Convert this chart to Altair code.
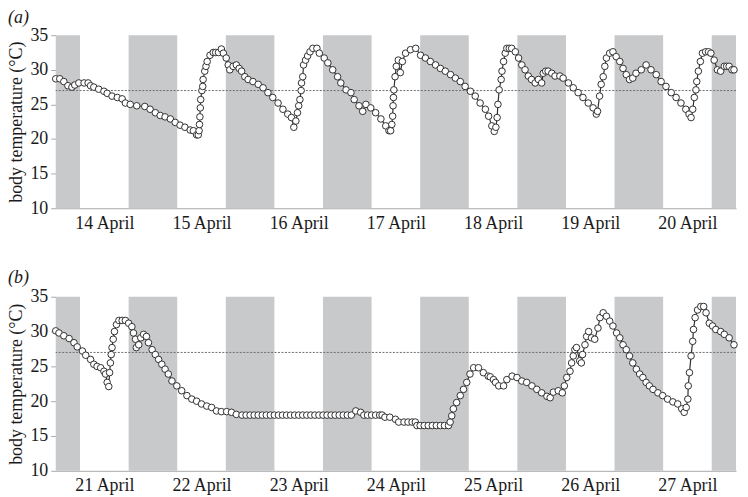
import altair as alt
import pandas as pd

# ---------------- data (hours since 00:00 of first day, body temperature °C) ----------------
A_HOURS = [0, 1, 2, 3, 4, 4.7, 5.7, 7, 8, 8.6, 9.4, 10.6, 11.9, 12.7, 13.9, 15.2, 16.4, 17.2,
           18.4, 20, 22, 23.3, 24.6, 25.8, 27, 28.3, 29.5, 30.7, 31.9, 33.2, 34, 34.8, 35.2,
           35.4, 35.5, 35.6, 35.7, 35.8, 36.1, 36.3, 36.4, 36.8, 37.1, 37.4, 38.1, 38.9, 39.5,
           40.2, 40.9, 41.4, 42.1, 42.6, 43.0, 43.8, 44.6, 45.3, 45.9, 46.7, 47.5, 48.7, 50,
           51.2, 52.4, 53.6, 54.9, 56.1, 57.3, 58.2, 58.8, 59.3, 59.7, 60.0, 60.3, 60.6, 60.7,
           61.0, 61.2, 61.7, 62.2, 62.8, 63.5, 64.5, 65.1, 66.3, 67.2, 68.4, 69.6, 70.4, 71.7,
           72.9, 73.7, 74.9, 75.8, 76.6, 77.8, 79.0, 80.3, 81.5, 82.3, 82.7, 83.0, 83.2, 83.3,
           83.4, 83.5, 83.8, 84.1, 84.6, 85.1, 85.6, 86.4, 87.6, 88.9, 90.1, 91.3, 92.5, 93.8,
           95.0, 96.2, 97.5, 98.7, 99.9, 101.1, 102.4, 103.6, 104.8, 106.1, 106.9, 107.7, 108.3,
           108.7, 109.0, 109.2, 109.5, 110.0, 110.2, 110.6, 111.0, 111.4, 112.0, 112.6, 113.5,
           114.3, 115.1, 115.9, 116.7, 117.5, 118.4, 119.2, 120.0, 120.4, 121.0, 121.6, 122.5,
           123.3, 124.5, 125.3, 126.6, 127.8, 129.0, 130.2, 131.5, 132.7, 133.5, 133.8, 134.3,
           134.7, 135.2, 135.6, 136.0, 136.8, 137.6, 138.4, 139.3, 140.1, 140.9, 141.7, 142.5,
           143.3, 144.6, 145.8, 147.0, 148.3, 149.5, 150.7, 152.0, 153.2, 154.4, 155.6, 156.4,
           156.9, 157.3, 157.7, 158.1, 158.3, 158.7, 159.2, 159.7, 160.5, 161.2, 161.8, 162.6,
           163.4, 164.2, 165.1, 165.7, 166.3, 167.0, 167.5]
A_TEMPS = [28.7, 28.7, 28.3, 27.7, 27.5, 27.8, 28.1, 28.1, 28.1, 27.7, 27.5, 27.2, 26.9, 26.6,
           26.2, 26.0, 25.8, 25.2, 25.0, 24.8, 24.7, 24.3, 23.8, 23.4, 23.2, 22.9, 22.4, 22.0,
           21.7, 21.3, 21.2, 20.6, 20.6, 21.2, 22.1, 23.2, 24.5, 25.7, 27.0, 27.6, 28.6, 29.8,
           30.5, 31.2, 32.1, 32.5, 32.5, 32.5, 33.0, 32.4, 31.7, 30.7, 30.0, 30.5, 30.7, 30.2,
           29.8, 29.0, 28.6, 28.3, 27.9, 27.4, 26.7, 26.0, 25.2, 24.3, 23.6, 23.1, 21.7, 22.6,
           23.8, 24.8, 25.7, 27.0, 28.1, 29.0, 30.7, 31.4, 32.0, 32.6, 33.1, 33.1, 32.4, 31.7,
           31.0, 30.0, 29.0, 28.1, 27.1, 26.7, 25.7, 24.8, 24.0, 25.0, 24.5, 23.8, 22.9, 21.9,
           21.2, 21.2, 22.1, 23.3, 24.8, 26.0, 27.1, 29.0, 30.5, 31.4, 29.6, 31.2, 32.4, 32.9,
           33.1, 32.1, 31.7, 31.2, 30.7, 30.2, 29.8, 29.3, 28.8, 28.3, 27.6, 26.9, 26.2, 25.2,
           24.3, 23.3, 21.9, 21.1, 21.7, 23.1, 25.0, 27.1, 28.6, 29.8, 31.2, 32.4, 33.1, 33.1,
           33.1, 32.6, 31.7, 30.7, 30.0, 29.1, 28.6, 28.1, 28.6, 28.1, 29.5, 29.8, 29.8, 29.5,
           29.1, 29.1, 28.8, 28.1, 27.4, 26.7, 26.0, 25.2, 24.5, 23.6, 24.0, 26.2, 27.9, 29.0,
           30.5, 31.7, 32.4, 32.6, 31.9, 31.2, 30.2, 29.3, 28.6, 28.8, 29.5, 30.0, 30.7, 30.0,
           29.3, 28.3, 27.6, 26.7, 26.0, 25.2, 24.3, 23.6, 23.1, 24.3, 26.0, 27.1, 28.3, 29.8,
           31.2, 32.4, 32.6, 32.6, 32.4, 31.4, 30.0, 29.8, 30.5, 30.5, 30.5, 30.0, 30.0]

B_HOURS = [0, 0.8, 2.0, 3.3, 4.5, 5.3, 6.6, 7.4, 8.6, 9.4, 10.2, 11.1, 11.9, 12.3, 12.7, 13.1,
           13.3, 13.5, 13.7, 13.9, 14.2, 14.5, 15.0, 15.6, 16.4, 17.2, 18.0, 18.8, 19.2, 19.7,
           19.9, 20.5, 21.0, 21.7, 22.4, 22.9, 23.8, 24.6, 25.4, 26.2, 27.0, 27.8, 28.7, 29.9,
           31.1, 32.4, 33.6, 34.8, 36.0, 37.3, 38.5, 39.7, 40.9, 42.2, 43.4, 44.6, 46, 47, 48,
           49, 50, 51, 52, 53, 54, 55, 56, 57, 58, 59, 60, 61, 62, 63, 64, 65, 66, 67, 68, 69,
           70, 71, 72, 73, 74.1, 75.3, 76.1, 77, 78, 79, 80, 80.6, 81.3, 82.5, 83.9, 84.7, 86,
           87, 88, 88.8, 89.2, 90, 91, 92, 93, 94, 95, 96, 97.0, 97.4, 97.8, 98.2, 99.0, 99.9,
           100.7, 101.5, 102.3, 103.2, 104.4, 105.6, 106.8, 107.3, 108.1, 108.6, 109.4, 110.6,
           111.4, 112.7, 113.9, 115.1, 116.3, 117.6, 118.8, 120.0, 121.3, 122.1, 122.9, 124.1,
           125.1, 125.6, 126.2, 127.0, 127.4, 127.8, 128.2, 128.6, 129.4, 129.8, 130.1, 130.7,
           131.1, 131.6, 132.3, 133.1, 133.9, 134.4, 135.2, 136.0, 136.8, 137.6, 138.5, 139.3,
           140.1, 140.9, 141.7, 142.5, 143.4, 144.2, 145.0, 145.8, 146.6, 147.5, 148.7, 149.9,
           151.1, 152.4, 153.6, 154.6, 155.2, 155.7, 156.1, 156.2, 156.5, 156.9, 157.3, 157.5,
           157.9, 158.5, 159.3, 160.0, 160.6, 161.4, 162.2, 163.0, 164.2, 165.1, 166.3, 167.5]
B_TEMPS = [30.1, 29.8, 29.4, 29.0, 28.4, 27.8, 27.2, 26.6, 26.0, 25.3, 25.0, 24.8, 24.3, 23.9,
           22.7, 22.1, 24.1, 25.5, 26.7, 27.7, 28.9, 30.0, 31.0, 31.6, 31.6, 31.6, 31.2, 30.7,
           29.8, 28.9, 27.7, 28.1, 29.1, 29.6, 29.3, 28.4, 27.4, 26.7, 26.0, 25.3, 24.6, 23.9,
           22.9, 22.2, 21.5, 20.8, 20.3, 20.0, 19.6, 19.3, 19.1, 18.6, 18.5, 18.5, 18.4, 18.1,
           18.0, 18.0, 18.0, 18.0, 18.0, 18.0, 18.0, 18.0, 18.0, 18.0, 18.0, 18.0, 18.0, 18.0,
           18.0, 18.0, 18.0, 18.0, 18.0, 18.0, 18.0, 18.0, 18.0, 18.0, 18.0, 18.0, 18.0, 18.0,
           18.6, 18.4, 18.0, 18.0, 18.0, 18.0, 18.0, 18.0, 17.7, 17.7, 17.4, 17.0, 17.0, 17.0,
           17.0, 17.0, 16.5, 16.5, 16.5, 16.5, 16.5, 16.5, 16.5, 16.5, 16.5, 17.0, 17.9, 18.9,
           19.8, 20.8, 21.7, 22.7, 23.9, 24.8, 24.8, 24.1, 23.6, 23.5, 23.1, 22.7, 22.2, 22.2,
           23.1, 23.6, 23.4, 22.9, 22.7, 22.2, 21.7, 21.2, 20.7, 20.5, 21.3, 21.5, 21.2, 22.2,
           23.4, 24.3, 25.5, 26.5, 27.4, 27.7, 25.8, 25.5, 26.7, 28.1, 29.3, 30.0, 29.1, 28.9,
           30.5, 32.0, 32.7, 32.2, 31.5, 30.8, 29.8, 29.1, 28.1, 27.4, 26.5, 25.5, 24.6, 23.9,
           23.4, 22.7, 22.2, 21.7, 21.2, 20.8, 20.3, 19.9, 19.6, 18.9, 18.4, 19.1, 20.3, 22.2,
           24.1, 26.5, 28.6, 30.3, 32.0, 33.1, 33.6, 33.6, 32.7, 31.2, 30.8, 30.3, 30.0, 29.6,
           29.1, 28.1]

NIGHT_START = [0, 18, 42, 66, 90, 114, 138, 162]
NIGHT_END = [6, 30, 54, 78, 102, 126, 150, 168]
DAY_TICKS = [12, 36, 60, 84, 108, 132, 156]
Y_TICKS = [10, 15, 20, 25, 30, 35]
THRESHOLD = [27]

FONT = "Liberation Serif"


def panel(hours, temps, first_day, label, height, title_offset):
    df = pd.DataFrame({"h": hours, "t": temps})
    nights = pd.DataFrame({"s": NIGHT_START, "e": NIGHT_END})
    thr = pd.DataFrame({"t": THRESHOLD})
    xs = alt.Scale(domain=[0, 168], nice=False, zero=False)
    ys = alt.Scale(domain=[10, 35], nice=False, zero=False)
    xaxis = alt.Axis(values=DAY_TICKS,
                     labelExpr=f"(floor(datum.value / 24) + {first_day}) + ' April'",
                     ticks=False, grid=False, title=None, domainColor="#a8a8a8",
                     labelFont=FONT, labelFontSize=18, labelColor="#1a1a1a",
                     labelPadding=6, labelFlush=False, labelOverlap=False)
    yaxis = alt.Axis(values=Y_TICKS, grid=False, domain=False, ticks=True, tickSize=5,
                     tickColor="#a8a8a8", labelFont=FONT, labelFontSize=18,
                     labelColor="#1a1a1a", labelPadding=3, labelOverlap=False,
                     labelFlush=False,
                     title="body temperature (°C)", titleFont=FONT, titleFontSize=18,
                     titleFontWeight="normal", titleColor="#1a1a1a", titlePadding=4)
    bands = alt.Chart(nights).mark_rect(color="#c8c9cb").encode(
        x=alt.X("s:Q", scale=xs, axis=xaxis),
        x2="e:Q",
        y=alt.Y(datum=10, type="quantitative", scale=ys, axis=yaxis),
        y2=alt.Y2(datum=35),
    )
    rule = alt.Chart(thr).mark_rule(color="#6e6e6e", strokeWidth=1,
                                    strokeDash=[2, 1.5]).encode(
        y=alt.Y("t:Q", scale=ys, axis=yaxis)
    )
    line = alt.Chart(df).mark_line(
        color="#303030", strokeWidth=1.2,
        point=alt.OverlayMarkDef(filled=False, fill="white", stroke="#303030",
                                 size=44, strokeWidth=1, opacity=1),
    ).encode(
        x=alt.X("h:Q", scale=xs, axis=xaxis),
        y=alt.Y("t:Q", scale=ys, axis=yaxis),
    )
    return alt.layer(bands, rule, line).properties(
        width=684, height=height,
        title=alt.TitleParams(label, font=FONT, fontSize=18, fontStyle="italic",
                              fontWeight="normal", color="#1a1a1a", anchor="start",
                              frame="bounds", offset=title_offset),
    )


top = panel(A_HOURS, A_TEMPS, 14, "(a)", 174, -1)
bottom = panel(B_HOURS, B_TEMPS, 21, "(b)", 175, 1)

chart = alt.vconcat(top, bottom, spacing=37).properties(
    padding={"left": 0, "top": 0, "right": 0, "bottom": 0}
).configure_view(stroke=None)

chart.save("out.html", embed_options={"renderer": "svg", "actions": False})
